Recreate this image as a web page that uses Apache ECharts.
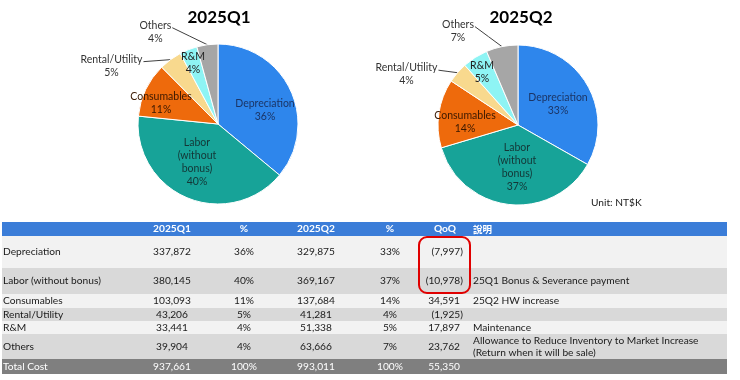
<!DOCTYPE html>
<html><head><meta charset="utf-8">
<script src="https://cdn.jsdelivr.net/npm/echarts@6/dist/echarts.min.js"></script>
<style>html,body{margin:0;padding:0;background:#fff}#main{width:740px;height:380px}</style>
</head><body><div id="main"></div>
<script>
// ---------- data ----------
const categories = ['Depreciation', 'Labor (without bonus)', 'Consumables', 'Rental/Utility', 'R&M', 'Others'];
const pieNames = ['Depreciation', 'Labor\n(without\nbonus)', 'Consumables', 'Rental/Utility', 'R&M', 'Others'];
const q1Values = [337872, 380145, 103093, 43206, 33441, 39904];
const q2Values = [329875, 369167, 137684, 41281, 51338, 63666];
const q1Pct = ['36%', '40%', '11%', '5%', '4%', '4%'];
const q2Pct = ['33%', '37%', '14%', '4%', '5%', '7%'];
const notes = ['', '25Q1 Bonus & Severance payment', '25Q2 HW increase', '', 'Maintenance',
  'Allowance to Reduce Inventory to Market Increase\n(Return when it will be sale)'];
const headers = ['', '2025Q1', '%', '2025Q2', '%', 'QoQ', '說明'];
const totalLabel = 'Total Cost';
const totalPct = '100%';
const pieTitles = ['2025Q1', '2025Q2'];
const unitText = 'Unit: NT$K';

// ---------- styles ----------
const FONT = 'Lato, "Liberation Sans", Arial, sans-serif';
const sliceColors = ['#2E86EC', '#17A398', '#EE6A0C', '#F8D98E', '#8EF4F4', '#A6A6A6'];
const labelColors = ['#1B3566', '#143636', '#3A1800', '#333333', '#222222', '#333333'];
const outsideIdx = [3, 5];
const pieCenters = [[218, 124], [518, 125]];
const R = 80;
// label placement (offsets from pie centre for inside labels, from slice edge for outside labels)
const insideOffsets = [
  {0: [47, -13.5], 1: [-21, 38.5], 2: [-57, -20.5], 4: [-25, -60.5]},
  {0: [40, -20.5], 1: [-1, 42], 2: [-53, -3], 4: [-36, -53]}
];
const outsideOffsets = [
  {3: [-59, 6], 5: [-52, -13]},
  {3: [-51, 1.5], 5: [-44, -16]}
];

const fmt = v => Math.abs(v).toLocaleString('en-US');
const sum = a => a.reduce((s, v) => s + v, 0);

function makeLayout(si) {
  const vals = si === 0 ? q1Values : q2Values;
  const total = sum(vals);
  return function (params) {
    const i = params.dataIndex;
    const cx = pieCenters[si][0], cy = pieCenters[si][1];
    if (outsideIdx.indexOf(i) >= 0) {
      let cum = 0;
      for (let k = 0; k < i; k++) cum += vals[k];
      const mid = (cum + vals[i] / 2) / total * Math.PI * 2;
      const ex = cx + R * Math.sin(mid), ey = cy - R * Math.cos(mid);
      const off = outsideOffsets[si][i];
      const lx = ex + off[0], ly = ey + off[1];
      const w = params.labelRect.width;
      const endX = lx + w / 2 + 1, endY = ly - 4;
      return {
        x: lx, y: ly, align: 'center', verticalAlign: 'middle',
        labelLinePoints: [[ex, ey], [(ex + endX) / 2, (ey + endY) / 2], [endX, endY]]
      };
    }
    const o = insideOffsets[si][i];
    return {x: cx + o[0], y: cy + o[1], align: 'center', verticalAlign: 'middle'};
  };
}

function pieSeries(si) {
  const vals = si === 0 ? q1Values : q2Values;
  return {
    type: 'pie',
    center: pieCenters[si],
    radius: R,
    startAngle: 90,
    clockwise: true,
    percentPrecision: 0,
    avoidLabelOverlap: false,
    animation: false,
    itemStyle: {borderColor: '#ffffff', borderWidth: 1},
    label: {
      formatter: '{b}\n{d}%', fontFamily: FONT, fontSize: 10.5, lineHeight: 13, align: 'center'
    },
    labelLine: {lineStyle: {color: '#404040', width: 1}},
    labelLayout: makeLayout(si),
    data: vals.map((v, i) => {
      const out = outsideIdx.indexOf(i) >= 0;
      return {
        value: v, name: pieNames[i],
        itemStyle: {color: sliceColors[i]},
        label: {position: out ? 'outside' : 'inside', color: labelColors[i]},
        labelLine: {show: out, length: 5, length2: 5}
      };
    })
  };
}

// ---------- table (graphic) ----------
const tableLeft = 2, tableRight = 727;
const headerTop = 222, headerH = 14;
const rowHeights = [32, 26, 14, 13, 13, 25];
const totalH = 15;
const rowFills = ['#F2F2F2', '#D9D9D9'];
const colX = {label: 3, q1: 172, p1: 244, q2: 316, p2: 390, qoqR: 460, note: 473};
const TSIZE = 10.2;

const g = [];
function txt(x, y, text, opts) {
  opts = opts || {};
  g.push({
    type: 'text', x: x, y: y, silent: true,
    style: {
      text: text, fill: opts.fill || '#1a1a1a',
      font: (opts.bold ? 'bold ' : '') + (opts.size || TSIZE) + 'px ' + (opts.family || FONT),
      align: opts.align || 'center', verticalAlign: 'middle',
      textAlign: opts.align || 'center', textVerticalAlign: 'middle',
      lineHeight: opts.lineHeight || 12
    }
  });
}
function rect(x, y, w, h, fill) {
  g.push({type: 'rect', silent: true, shape: {x: x, y: y, width: w, height: h}, style: {fill: fill}});
}

// titles
txt(pieCenters[0][0] + 1, 18, pieTitles[0], {bold: true, size: 17, fill: '#000'});
txt(pieCenters[1][0] + 3, 18, pieTitles[1], {bold: true, size: 17, fill: '#000'});
txt(591, 203, unitText, {align: 'left', size: 10.2, fill: '#1a1a1a'});

// header
rect(tableLeft, headerTop, tableRight - tableLeft, headerH, '#3B7DD8');
const hy = headerTop + headerH / 2;
txt(colX.q1, hy, headers[1], {bold: true, fill: '#fff'});
txt(colX.p1, hy, headers[2], {bold: true, fill: '#fff'});
txt(colX.q2, hy, headers[3], {bold: true, fill: '#fff'});
txt(colX.p2, hy, headers[4], {bold: true, fill: '#fff'});
txt(445, hy, headers[5], {bold: true, fill: '#fff'});
txt(colX.note, hy, headers[6], {bold: true, fill: '#fff', align: 'left', family: '"Noto Sans CJK TC", sans-serif', size: 9.5});

function qoqText(x, y, v, fill) {
  if (v < 0) txt(x + 3, y, '(' + fmt(v) + ')', {align: 'right', fill: fill});
  else txt(x, y, fmt(v), {align: 'right', fill: fill});
}

let y = headerTop + headerH;
categories.forEach((c, i) => {
  const h = rowHeights[i];
  rect(tableLeft, y, tableRight - tableLeft, h, rowFills[i % 2]);
  const cy = y + h / 2;
  txt(colX.label, cy, c, {align: 'left'});
  txt(colX.q1, cy, fmt(q1Values[i]));
  txt(colX.p1, cy, q1Pct[i]);
  txt(colX.q2, cy, fmt(q2Values[i]));
  txt(colX.p2, cy, q2Pct[i]);
  qoqText(colX.qoqR, cy, q2Values[i] - q1Values[i]);
  if (notes[i]) txt(colX.note, cy, notes[i], {align: 'left', lineHeight: 11.5});
  y += h;
});
// total
rect(tableLeft, y, tableRight - tableLeft, totalH, '#7F7F7F');
const ty = y + totalH / 2;
const t1 = sum(q1Values), t2 = sum(q2Values);
txt(colX.label, ty, totalLabel, {align: 'left', fill: '#fff'});
txt(colX.q1, ty, fmt(t1), {fill: '#fff'});
txt(colX.p1, ty, totalPct, {fill: '#fff'});
txt(colX.q2, ty, fmt(t2), {fill: '#fff'});
txt(colX.p2, ty, totalPct, {fill: '#fff'});
qoqText(colX.qoqR, ty, t2 - t1, '#fff');

// red highlight box
g.push({type: 'rect', silent: true, z: 10,
  shape: {x: 419, y: 237, width: 51, height: 56, r: 8},
  style: {fill: 'none', stroke: '#E00000', lineWidth: 2}});

const chart = echarts.init(document.getElementById('main'), null, {renderer: 'canvas'});
chart.setOption({
  backgroundColor: '#ffffff',
  animation: false,
  series: [pieSeries(0), pieSeries(1)],
  graphic: g
});
</script>
</body></html>
